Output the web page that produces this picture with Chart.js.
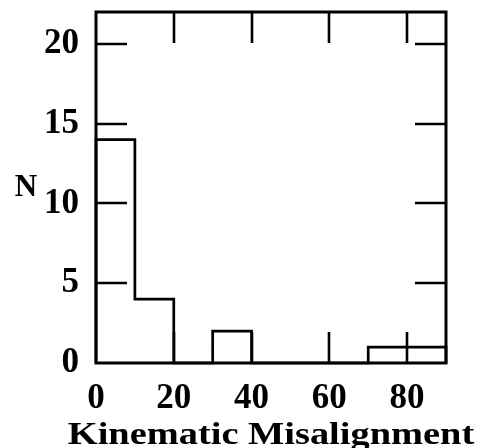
<!DOCTYPE html>
<html>
<head>
<meta charset="utf-8">
<script src="https://cdn.jsdelivr.net/npm/chart.js@4/dist/chart.umd.min.js"></script>
<style>
  html, body { margin: 0; padding: 0; background: #fff; }
  #wrap { width: 484px; height: 448px; }
</style>
</head>
<body>
<div id="wrap"><canvas id="c" width="484" height="448"></canvas></div>
<script>
// Histogram of kinematic misalignment angles (10-degree bins)
const binEdges = [0, 10, 20, 30, 40, 50, 60, 70, 80, 90];
const counts   = [14, 4, 0, 2, 0, 0, 0, 1, 1];
const xTickValues = [0, 20, 40, 60, 80];
const yTickValues = [0, 5, 10, 15, 20];
const xTitle = 'Kinematic Misalignment';
const yTitle = 'N';

// Outline of the histogram as a stepped polyline over the bin edges
const outline = [{ x: binEdges[0], y: 0 }];
counts.forEach((n, i) => outline.push({ x: binEdges[i], y: n }));
outline.push({ x: binEdges[binEdges.length - 1], y: counts[counts.length - 1] });
outline.push({ x: binEdges[binEdges.length - 1], y: 0 });

const SERIF = '"Liberation Serif", "Times New Roman", serif';
const INK = '#000';

// Box frame with inward-pointing ticks on all four sides, plus the axis titles
const frameTicks = {
  id: 'frameTicks',
  afterDatasetsDraw(chart) {
    const { ctx, chartArea: a, scales } = chart;
    const len = 31;
    ctx.save();
    ctx.strokeStyle = INK;
    ctx.lineCap = 'butt';
    ctx.lineWidth = 2.6;
    xTickValues.forEach(v => {
      if (v === scales.x.min) return;
      const px = Math.round(scales.x.getPixelForValue(v));
      ctx.beginPath();
      ctx.moveTo(px, a.bottom); ctx.lineTo(px, a.bottom - len);
      ctx.moveTo(px, a.top); ctx.lineTo(px, a.top + len);
      ctx.stroke();
    });
    yTickValues.forEach(v => {
      if (v === scales.y.min) return;
      const py = Math.round(scales.y.getPixelForValue(v));
      ctx.beginPath();
      ctx.moveTo(a.left, py); ctx.lineTo(a.left + len, py);
      ctx.moveTo(a.right, py); ctx.lineTo(a.right - len, py);
      ctx.stroke();
    });
    ctx.lineWidth = 3;
    ctx.strokeRect(a.left, a.top, a.right - a.left, a.bottom - a.top);

    ctx.fillStyle = INK;
    ctx.textAlign = 'center';

    // y-axis title, upright beside the axis
    ctx.font = 'bold 31px ' + SERIF;
    ctx.textBaseline = 'middle';
    ctx.fillText(yTitle, 26, 188);

    // x-axis title, centred under the plot in a wide setting
    ctx.font = 'bold 32px ' + SERIF;
    ctx.textBaseline = 'alphabetic';
    ctx.translate((a.left + a.right) / 2, 444);
    ctx.scale(1.2, 1);
    ctx.fillText(xTitle, 0, 0);
    ctx.restore();
  }
};

new Chart(document.getElementById('c'), {
  type: 'line',
  data: {
    datasets: [{
      data: outline,
      stepped: 'before',
      borderColor: INK,
      borderWidth: 2.7,
      pointRadius: 0,
      fill: false,
      clip: 4
    }]
  },
  options: {
    responsive: false,
    animation: false,
    devicePixelRatio: 1,
    layout: { padding: { top: 12, right: 38, left: 0, bottom: 0 } },
    plugins: { legend: { display: false }, tooltip: { enabled: false } },
    scales: {
      x: {
        type: 'linear',
        min: binEdges[0],
        max: binEdges[binEdges.length - 1],
        border: { display: false },
        grid: { display: false, drawTicks: false },
        afterBuildTicks(scale) { scale.ticks = xTickValues.map(v => ({ value: v })); },
        afterFit(scale) {
          scale.height = 85;
          scale.paddingLeft = 0;
          scale.paddingRight = 0;
        },
        ticks: {
          color: INK,
          padding: 15,
          maxRotation: 0,
          font: { family: SERIF, size: 35, weight: 'bold' }
        },
        title: { display: false }
      },
      y: {
        type: 'linear',
        min: 0,
        max: 22,
        border: { display: false },
        grid: { display: false, drawTicks: false },
        afterBuildTicks(scale) { scale.ticks = yTickValues.map(v => ({ value: v })); },
        afterFit(scale) {
          scale.width = 96;
          scale.paddingTop = 0;
          scale.paddingBottom = 0;
        },
        ticks: {
          color: INK,
          padding: 17,
          font: { family: SERIF, size: 35, weight: 'bold' }
        }
      }
    }
  },
  plugins: [frameTicks]
});
</script>
</body>
</html>
